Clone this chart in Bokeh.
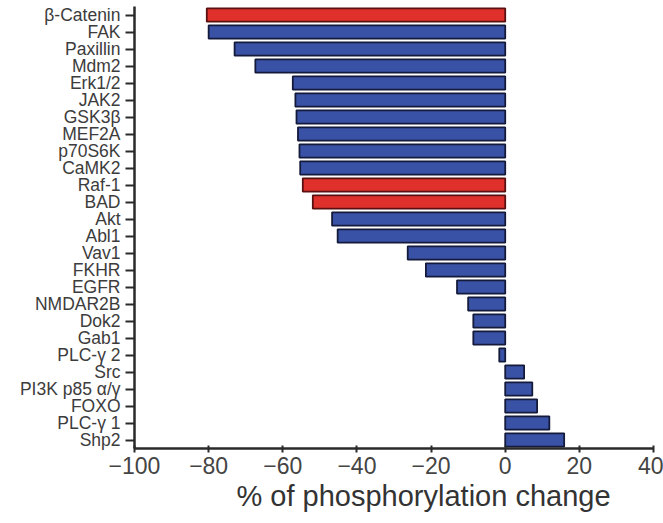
from bokeh.plotting import figure
from bokeh.models import ColumnDataSource, FactorRange, Range1d, FixedTicker, Title
from bokeh.embed import file_html
from bokeh.resources import INLINE

proteins = ["β-Catenin", "FAK", "Paxillin", "Mdm2", "Erk1/2", "JAK2", "GSK3β", "MEF2A",
            "p70S6K", "CaMK2", "Raf-1", "BAD", "Akt", "Abl1", "Vav1", "FKHR", "EGFR",
            "NMDAR2B", "Dok2", "Gab1", "PLC-γ 2", "Src", "PI3K p85 α/γ", "FOXO",
            "PLC-γ 1", "Shp2"]
change = [-80.5, -80.0, -73.0, -67.4, -57.3, -56.6, -56.3, -55.9,
          -55.5, -55.3, -54.6, -51.9, -46.7, -45.2, -26.3, -21.4, -13.0,
          -10.0, -8.6, -8.6, -1.6, 5.1, 7.3, 8.6,
          11.9, 15.9]
highlighted = ["β-Catenin", "Raf-1", "BAD"]
x_ticks = [-100, -80, -60, -40, -20, 0, 20, 40]
x_tick_labels = ["−100", "−80", "−60", "−40", "−20", "0", "20", "40"]
x_title = "% of phosphorylation change"

BLUE = "#3a52a6"
RED = "#e0302c"
colors = [RED if p in highlighted else BLUE for p in proteins]
outlines = ["#5a1010" if p in highlighted else "#141a3a" for p in proteins]

src = ColumnDataSource(dict(y=proteins, x=change, c=colors, lc=outlines))

p = figure(width=663, height=523, output_backend="svg", toolbar_location=None,
           y_range=FactorRange(*list(reversed(proteins)), range_padding=0),
           x_range=Range1d(-100, 40),
           min_border_left=134, min_border_right=10, min_border_top=6,
           min_border_bottom=75)

p.hbar(y="y", left=0, right="x", height=0.78, fill_color="c", line_color="lc",
       line_width=1.8, source=src)

p.outline_line_color = None
p.grid.grid_line_color = None
p.background_fill_color = "white"
p.border_fill_color = "white"

xa = p.xaxis[0]
xa.ticker = FixedTicker(ticks=x_ticks)
xa.major_label_overrides = {t: l for t, l in zip(x_ticks, x_tick_labels)}
xa.major_label_text_font = "Liberation Sans"
xa.major_label_text_font_size = "23px"
xa.major_label_text_color = "#444444"
xa.major_label_standoff = 4
xa.major_tick_out = 4
xa.major_tick_in = 3
xa.minor_tick_line_color = None
xa.axis_line_width = 2.5
xa.axis_line_color = "#2a2a2a"
xa.major_tick_line_color = "#2a2a2a"
xa.major_tick_line_width = 2

p.add_layout(Title(text=x_title, align="left", offset=102, standoff=3,
                   text_font="Liberation Sans", text_font_style="normal",
                   text_font_size="29px", text_color="#333333"), "below")

ya = p.yaxis[0]
ya.major_label_text_font = "Liberation Sans"
ya.major_label_text_font_size = "17.5px"
ya.major_label_text_color = "#3c3c3c"
ya.major_label_standoff = 5
ya.major_tick_out = 9
ya.major_tick_in = 0
ya.major_tick_line_width = 2
ya.major_tick_line_color = "#2a2a2a"
ya.axis_line_width = 2.5
ya.axis_line_color = "#2a2a2a"

open("out.html", "w").write(file_html(p, INLINE))
